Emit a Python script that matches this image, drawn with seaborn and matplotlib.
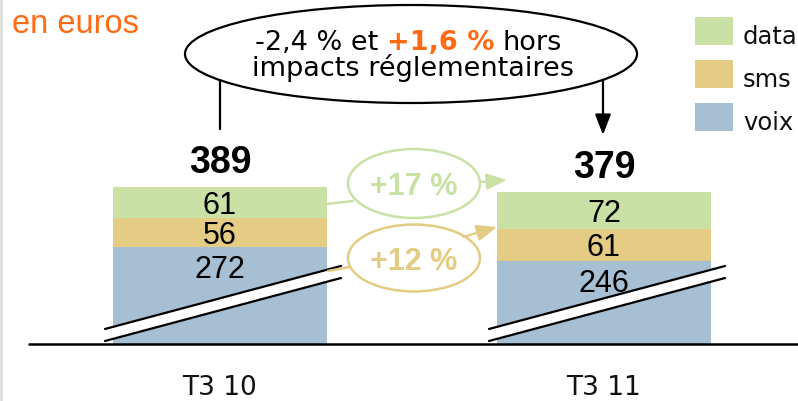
import matplotlib
matplotlib.use("Agg")
import matplotlib.pyplot as plt
import matplotlib.transforms as mtransforms
from matplotlib.patches import Ellipse, Polygon, Rectangle, FancyArrowPatch
import seaborn as sns

# ---- data -------------------------------------------------------------
categories = ["T3 10", "T3 11"]
voix = [272, 246]
sms = [56, 61]
data_usage = [61, 72]
totals = [389, 379]
growth_labels = ["+17 %", "+12 %"]
series_names = ["data", "sms", "voix"]
axis_break = 84  # part of the "voix" bars hidden by the broken axis

# ---- style ------------------------------------------------------------
GREEN = "#c9e1a5"
TAN = "#e4cc84"
BLUE = "#a7bfd3"
ORANGE = "#ff6a13"
series_colors = [GREEN, TAN, BLUE]

sns.set_style("white")
plt.rcParams["font.family"] = ["Liberation Sans", "DejaVu Sans"]
plt.rcParams["text.color"] = "black"
WIDE = ["DejaVu Sans"]

W, H = 798, 401
fig = plt.figure(figsize=(W / 100, H / 100), dpi=100)
# pixel transform: origin top-left, y pointing down
px = mtransforms.Affine2D().scale(1 / W, -1 / H).translate(0, 1) + fig.transFigure

# layout constants (pixels)
base_px = 344          # baseline of the bars
unit_px = 0.515        # pixels per euro
first_px, step_px = 220, 384

ax = fig.add_axes([0, (H - base_px) / H, 1, base_px / H])

# stacked bars, with the voix part shortened by the axis break
shown_voix = [v - axis_break for v in voix]
lvl1 = shown_voix
lvl2 = [a + b for a, b in zip(lvl1, sms)]
lvl3 = [a + b for a, b in zip(lvl2, data_usage)]

bar_w = 214 / step_px
for level, color in zip([lvl3, lvl2, lvl1], series_colors):
    sns.barplot(x=categories, y=level, color=color, width=bar_w,
                saturation=1, linewidth=0, errorbar=None, ax=ax)

ax.set_xlim(-first_px / step_px, (W - first_px) / step_px)
ax.set_ylim(0, base_px / unit_px)
for s in ax.spines.values():
    s.set_visible(False)
ax.set_xticks([])
ax.set_yticks([])
ax.set_xlabel("")
ax.set_ylabel("")
ax.patch.set_alpha(0)

# baseline
ax.plot([(29 - first_px) / step_px, (W - first_px) / step_px], [0, 0],
        color="black", lw=1.8, clip_on=False, zorder=5)

# value labels
for i in range(len(categories)):
    ax.annotate(str(totals[i]), xy=(i, lvl3[i]), xytext=(0, 14),
                textcoords="offset pixels", ha="center", va="baseline",
                fontsize=27, fontweight="bold")
    ax.annotate(str(data_usage[i]), xy=(i, (lvl2[i] + lvl3[i]) / 2),
                xytext=(0, -11), textcoords="offset pixels",
                ha="center", va="baseline", fontsize=22)
    ax.annotate(str(sms[i]), xy=(i, (lvl1[i] + lvl2[i]) / 2),
                xytext=(0, -11), textcoords="offset pixels",
                ha="center", va="baseline", fontsize=22)
    ax.annotate(str(voix[i]), xy=(i, lvl1[i]),
                xytext=(0, -31), textcoords="offset pixels",
                ha="center", va="baseline", fontsize=22)

# category labels
lab_tr = mtransforms.blended_transform_factory(ax.transData, px)
for i, c in enumerate(categories):
    ax.text(i, 395, c, transform=lab_tr, ha="center", va="baseline",
            fontsize=19, family=WIDE, color="#111111", clip_on=False)

# broken-axis marks
for i in range(len(categories)):
    x0, x1 = i - 115 / step_px, i + 121 / step_px
    lo0, lo1 = 3 / unit_px, 66 / unit_px
    up0, up1 = 15 / unit_px, 78 / unit_px
    ax.add_patch(Polygon([(x0, lo0), (x1, lo1), (x1, up1), (x0, up0)],
                         closed=True, facecolor="white", edgecolor="none",
                         zorder=4, clip_on=False))
    ax.plot([x0, x1], [lo0, lo1], color="black", lw=1.6, zorder=4, clip_on=False)
    ax.plot([x0, x1], [up0, up1], color="black", lw=1.6, zorder=4, clip_on=False)

# unit caption
fig.text(12, 33, "en euros", transform=px, color=ORANGE, fontsize=23.5,
         ha="left", va="baseline")

# left border
fig.add_artist(plt.Line2D([1, 1], [0, H], transform=px, color="#dddddd", lw=2))


def arrow(p0, p1, color, head=True, hl=1.2, hw=0.5):
    style = f"-|>,head_length={hl},head_width={hw}" if head else "-"
    fig.add_artist(FancyArrowPatch(p0, p1, transform=px, arrowstyle=style,
                                   mutation_scale=10, color=color, lw=1.6,
                                   shrinkA=0, shrinkB=0, zorder=6))


# headline bubble
fig.add_artist(Ellipse((411, 54), 452, 98, transform=px, facecolor="none",
                       edgecolor="black", lw=1.6))
pieces = [("-2,4 % et", "black", "normal"), ("+1,6 %", ORANGE, "bold"),
          ("hors", "black", "normal")]
first = fig.text(255, 50, pieces[0][0], transform=px, color=pieces[0][1],
                 fontweight=pieces[0][2], fontsize=19.5, family=WIDE,
                 ha="left", va="baseline")
prev = first
for txt, col, wt in pieces[1:]:
    prev = ax.annotate(txt, xy=(1, 0), xycoords=prev, xytext=(8.5, 0),
                       textcoords="offset pixels", color=col, fontweight=wt,
                       fontsize=19.5, family=WIDE, ha="left", va="bottom",
                       annotation_clip=False)
fig.text(413, 76, "impacts réglementaires", transform=px, fontsize=19.5,
         family=WIDE, ha="center", va="baseline")
fig.add_artist(plt.Line2D([220, 220], [80, 129], transform=px,
                          color="black", lw=1.6))
arrow((603, 80), (603, 135), "black", hl=1.25, hw=0.48)

# growth bubbles between the two bars
bubbles = [
    dict(center=(414, 183.5), h=69, color=GREEN, base=195,
         line=((327, 204), (353, 201)), arr=((480, 182), (507, 180))),
    dict(center=(414, 258), h=67, color=TAN, base=270,
         line=((328, 271), (350, 267)), arr=((463, 237), (497, 227))),
]
for lab, b in zip(growth_labels, bubbles):
    fig.add_artist(Ellipse(b["center"], 132, b["h"], transform=px,
                           facecolor="none", edgecolor=b["color"], lw=1.8))
    fig.text(b["center"][0], b["base"], lab, transform=px, color=b["color"],
             fontsize=22, fontweight="bold", ha="center", va="baseline")
    fig.add_artist(plt.Line2D(*zip(*b["line"]), transform=px,
                              color=b["color"], lw=1.8, zorder=3))
    arrow(b["arr"][0], b["arr"][1], b["color"], hl=1.25, hw=0.5)

# legend
for k, (name, col) in enumerate(zip(series_names, series_colors)):
    top = 17 + 43 * k
    fig.add_artist(Rectangle((695, top), 38, 28, transform=px,
                             facecolor=col, edgecolor="none"))
    fig.text(743, top + 27, name, transform=px, fontsize=17.5, family=WIDE,
             ha="left", va="baseline", color="#111111")

fig.savefig("out.png", dpi=100, facecolor="white")
